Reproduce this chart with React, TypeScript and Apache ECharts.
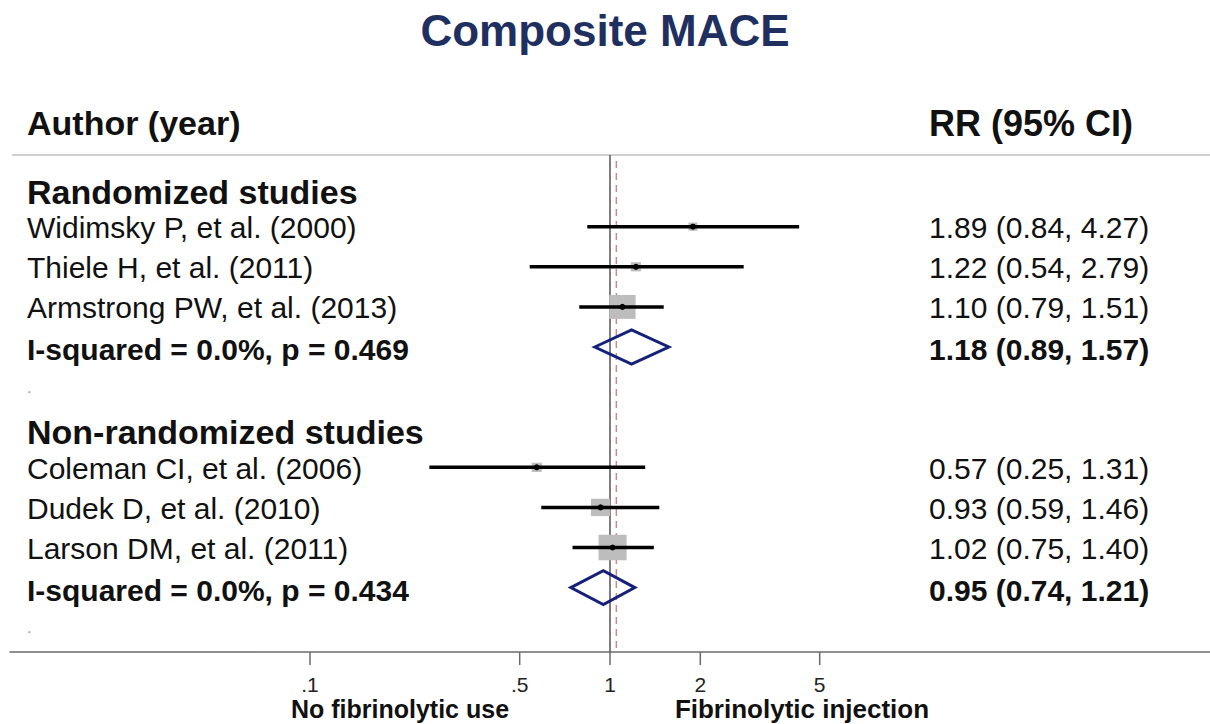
import React, { useEffect, useRef } from "react";
import * as echarts from "echarts";

const TITLE = "Composite MACE";
const HEADER_LEFT = "Author (year)";
const HEADER_RIGHT = "RR (95% CI)";
const CAPTION_LEFT = "No fibrinolytic use";
const CAPTION_RIGHT = "Fibrinolytic injection";

const GROUPS = ["Randomized studies", "Non-randomized studies"];
const GROUP_ROWS = [0, 6];

const STUDIES = [
  "Widimsky P, et al. (2000)",
  "Thiele H, et al. (2011)",
  "Armstrong PW, et al. (2013)",
  "Coleman CI, et al. (2006)",
  "Dudek D, et al. (2010)",
  "Larson DM, et al. (2011)",
];
const STUDY_ROWS = [1, 2, 3, 7, 8, 9];
const RR = [1.89, 1.22, 1.1, 0.57, 0.93, 1.02];
const LOWER = [0.84, 0.54, 0.79, 0.25, 0.59, 0.75];
const UPPER = [4.27, 2.79, 1.51, 1.31, 1.46, 1.4];
const WEIGHTS = [3.8, 4.8, 32.5, 4.8, 17.1, 37.0];

const POOLED_LABELS = ["I-squared = 0.0%, p = 0.469", "I-squared = 0.0%, p = 0.434"];
const POOLED_ROWS = [4, 10];
const POOLED_RR = [1.18, 0.95];
const POOLED_LOWER = [0.89, 0.74];
const POOLED_UPPER = [1.57, 1.21];

const BLANK_ROWS = [5, 11];
const NULL_VALUE = 1;
const OVERALL_RR = 1.05;

const TICK_VALUES = [0.1, 0.5, 1, 2, 5];
const TICK_LABELS = [".1", ".5", "1", "2", "5"];

const X_MIN = 0.01;
const X_MAX = 100;
const ROW_MIN = -0.788;
const ROW_MAX = 11.606;

const FONT = "'Liberation Sans', Arial, Helvetica, sans-serif";
const LEFT_X = 27;
const RIGHT_X = 929;

const fmt = (r: number, l: number, u: number) =>
  `${r.toFixed(2)} (${l.toFixed(2)}, ${u.toFixed(2)})`;

export default function App() {
  const ref = useRef<HTMLDivElement>(null);

  useEffect(() => {
    if (!ref.current) return;
    const chart = echarts.init(ref.current, undefined, { renderer: "svg" });

    const textItem = (x: number, y: number, text: string, size: number, bold: boolean, extra: any = {}) => ({
      type: "text",
      x,
      y,
      style: {
        text,
        fill: "#111",
        font: `${bold ? "bold " : ""}${size}px ${FONT}`,
        textAlign: "left",
        textVerticalAlign: "middle",
        ...extra,
      },
    });

    const option: any = {
      animation: false,
      backgroundColor: "#ffffff",
      title: {
        text: TITLE,
        left: "center",
        top: 3,
        textStyle: { fontSize: 44, fontWeight: "bold", color: "#1f2f5f", fontFamily: FONT },
      },
      grid: { left: 10, right: 0, top: 155, bottom: 72 },
      xAxis: {
        type: "log",
        logBase: 10,
        min: X_MIN,
        max: X_MAX,
        position: "bottom",
        axisLine: { show: true, onZero: false, lineStyle: { color: "#6a6a6a", width: 1.5 } },
        axisTick: { show: false },
        axisLabel: { show: false },
        splitLine: { show: false },
      },
      yAxis: {
        type: "value",
        inverse: true,
        min: ROW_MIN,
        max: ROW_MAX,
        show: false,
        splitLine: { show: false },
      },
      graphic: [
        {
          type: "line",
          shape: { x1: 12, y1: 155, x2: 1210, y2: 155 },
          style: { stroke: "#cfcfcf", lineWidth: 2 },
        },
        textItem(LEFT_X, 123, HEADER_LEFT, 34, true),
        textItem(RIGHT_X, 123, HEADER_RIGHT, 36, true),
        textItem(400, 709, CAPTION_LEFT, 25, true, { textAlign: "center" }),
        textItem(802, 709, CAPTION_RIGHT, 26, true, { textAlign: "center" }),
      ],
      series: [
        {
          name: "refLines",
          type: "custom",
          clip: false,
          data: [
            [NULL_VALUE, 0],
            [OVERALL_RR, 1],
          ],
          renderItem: (params: any, api: any) => {
            const x = api.coord([api.value(0), 0])[0];
            const top = params.coordSys.y;
            const bottom = params.coordSys.y + params.coordSys.height;
            const dashed = api.value(1) === 1;
            return {
              type: "line",
              shape: { x1: x, y1: dashed ? top + 6 : top, x2: x, y2: bottom },
              style: dashed
                ? { stroke: "#c98a8e", lineWidth: 1.5, lineDash: [7, 5] }
                : { stroke: "#555555", lineWidth: 1.5 },
            };
          },
        },
        {
          name: "ticks",
          type: "custom",
          clip: false,
          data: TICK_VALUES.map((v) => [v, ROW_MAX]),
          renderItem: (params: any, api: any) => {
            const p = api.coord([api.value(0), ROW_MAX]);
            return {
              type: "group",
              children: [
                {
                  type: "line",
                  shape: { x1: p[0], y1: p[1], x2: p[0], y2: p[1] + 13 },
                  style: { stroke: "#6a6a6a", lineWidth: 1.5 },
                },
                {
                  type: "text",
                  x: p[0],
                  y: p[1] + 32,
                  style: {
                    text: TICK_LABELS[params.dataIndex],
                    fill: "#222",
                    font: `21px ${FONT}`,
                    textAlign: "center",
                    textVerticalAlign: "middle",
                  },
                },
              ],
            };
          },
        },
        {
          name: "studies",
          type: "custom",
          clip: false,
          z: 3,
          data: RR.map((r, i) => [r, STUDY_ROWS[i], LOWER[i], UPPER[i], WEIGHTS[i]]),
          renderItem: (params: any, api: any) => {
            const r = api.value(0);
            const row = api.value(1);
            const c = api.coord([r, row]);
            const l = api.coord([api.value(2), row]);
            const h = api.coord([api.value(3), row]);
            const s = 4.2 * Math.sqrt(api.value(4));
            return {
              type: "group",
              children: [
                {
                  type: "rect",
                  shape: { x: c[0] - s * 0.55, y: c[1] - s / 2, width: s * 1.1, height: s },
                  style: { fill: "#bdbdbd" },
                },
                {
                  type: "line",
                  shape: { x1: l[0], y1: l[1], x2: h[0], y2: h[1] },
                  style: { stroke: "#000", lineWidth: 3.5 },
                },
                {
                  type: "circle",
                  shape: { cx: c[0], cy: c[1], r: 3 },
                  style: { fill: "#000" },
                },
              ],
            };
          },
        },
        {
          name: "pooled",
          type: "custom",
          clip: false,
          z: 3,
          data: POOLED_RR.map((r, i) => [r, POOLED_ROWS[i], POOLED_LOWER[i], POOLED_UPPER[i]]),
          renderItem: (params: any, api: any) => {
            const row = api.value(1);
            const c = api.coord([api.value(0), row]);
            const l = api.coord([api.value(2), row]);
            const h = api.coord([api.value(3), row]);
            const hh = 17;
            return {
              type: "polygon",
              shape: {
                points: [
                  [l[0], c[1]],
                  [c[0], c[1] - hh],
                  [h[0], c[1]],
                  [c[0], c[1] + hh],
                ],
              },
              style: { fill: "none", stroke: "#15207a", lineWidth: 3 },
            };
          },
        },
        {
          name: "groupLabels",
          type: "custom",
          clip: false,
          data: GROUP_ROWS.map((r) => [1, r]),
          renderItem: (params: any, api: any) => {
            const y = api.coord([1, api.value(1)])[1];
            return textItem(LEFT_X, y + 5, GROUPS[params.dataIndex], 34, true);
          },
        },
        {
          name: "studyLabels",
          type: "custom",
          clip: false,
          data: STUDY_ROWS.map((r) => [1, r]),
          renderItem: (params: any, api: any) => {
            const i = params.dataIndex;
            const y = api.coord([1, api.value(1)])[1];
            return {
              type: "group",
              children: [
                textItem(LEFT_X, y + 1, STUDIES[i], 30, false),
                textItem(RIGHT_X, y + 1, fmt(RR[i], LOWER[i], UPPER[i]), 30, false),
              ],
            };
          },
        },
        {
          name: "pooledLabels",
          type: "custom",
          clip: false,
          data: POOLED_ROWS.map((r) => [1, r]),
          renderItem: (params: any, api: any) => {
            const i = params.dataIndex;
            const y = api.coord([1, api.value(1)])[1];
            return {
              type: "group",
              children: [
                textItem(LEFT_X, y + 3, POOLED_LABELS[i], 30, true),
                textItem(RIGHT_X, y + 3, fmt(POOLED_RR[i], POOLED_LOWER[i], POOLED_UPPER[i]), 30, true),
              ],
            };
          },
        },
        {
          name: "blankRows",
          type: "custom",
          clip: false,
          data: BLANK_ROWS.map((r) => [1, r]),
          renderItem: (params: any, api: any) => {
            const y = api.coord([1, api.value(1)])[1];
            return textItem(LEFT_X, y, ".", 16, false, { fill: "#999" });
          },
        },
      ],
    };

    chart.setOption(option);
    return () => chart.dispose();
  }, []);

  return (
    <div
      ref={ref}
      style={{ position: "fixed", left: 0, top: 0, width: 1210, height: 724, background: "#fff" }}
    />
  );
}
